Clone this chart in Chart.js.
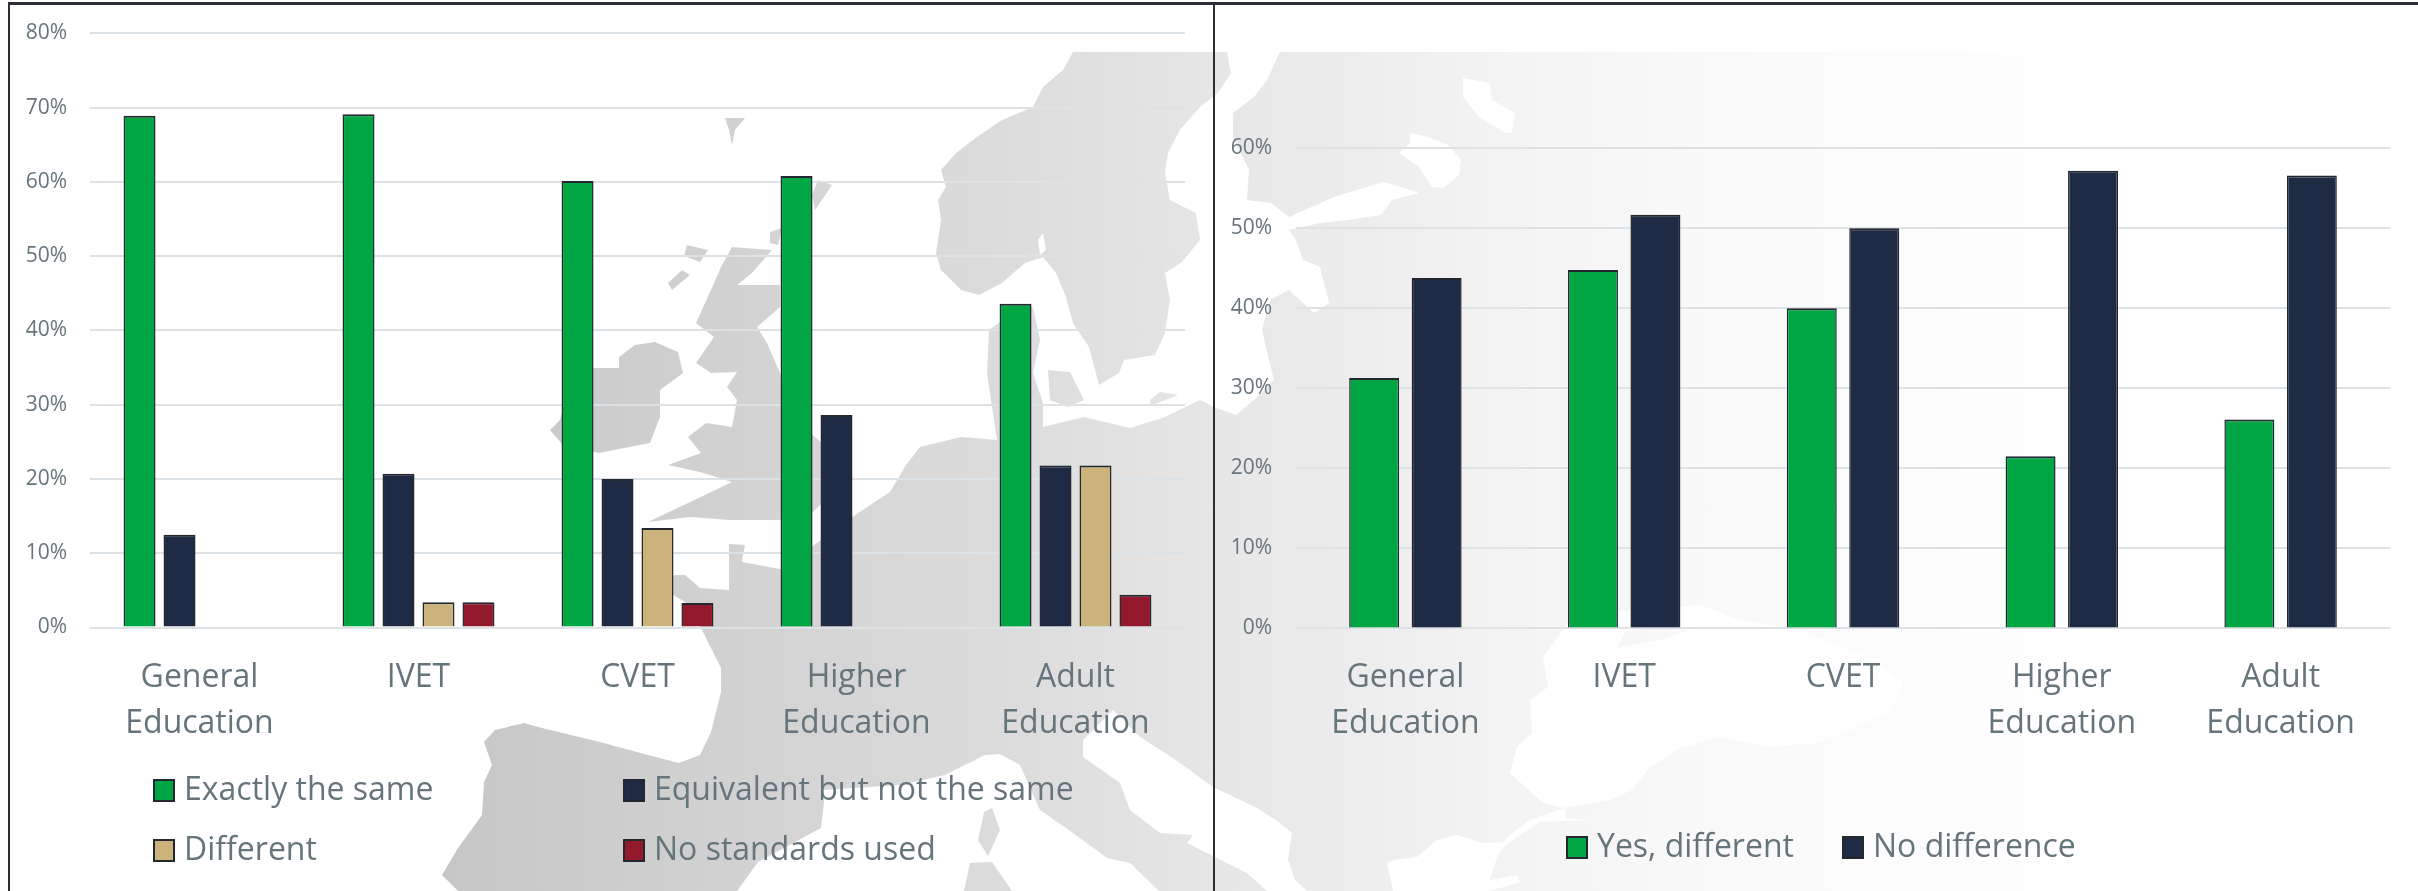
<!DOCTYPE html>
<html><head><meta charset="utf-8">
<script src="https://cdn.jsdelivr.net/npm/chart.js@4/dist/chart.umd.min.js"></script>
<style>
html,body{margin:0;padding:0;background:#fff;width:2418px;height:891px;overflow:hidden}
#map,canvas,.rule{position:absolute}
#map{left:0;top:0}
#c1{left:0;top:0}
#c2{left:1215px;top:0}
.rule{background:#2a2e35}
</style></head><body>
<svg id="map" width="2418" height="891"></svg>
<canvas id="c1" width="1215" height="891"></canvas>
<canvas id="c2" width="1203" height="891"></canvas>
<div class="rule" style="left:8px;top:2px;width:2410px;height:3px"></div>
<div class="rule" style="left:8px;top:2px;width:2px;height:889px"></div>
<div class="rule" style="left:1213px;top:2px;width:2px;height:889px"></div>
<script>
// ---- data ----
const categories = [["General","Education"],"IVET","CVET",["Higher","Education"],["Adult","Education"]];
const exactlySame = [68.9,69.1,60.1,60.8,43.6];
const equivalent  = [12.5,20.7,20.0,28.6,21.8];
const different   = [null,3.4,13.4,null,21.8];
const noStandards = [null,3.4,3.3,null,4.4];
const yesDifferent = [31.3,44.8,40.0,21.5,26.1];
const noDifference = [43.8,51.7,50.0,57.2,56.6];

// ---- decorative background map (land, then water on top) ----
const land = [
 [[1073,52],[1063,70],[1043,87],[1033,107],[1002,120],[977,137],[956,153],[941,170],[946,187],[938,200],[941,220],[936,253],[941,270],[961,290],[979,295],[1002,283],[1025,263],[1043,257],[1056,273],[1066,297],[1073,323],[1089,347],[1099,385],[1119,373],[1124,360],[1155,355],[1165,333],[1170,300],[1165,273],[1182,262],[1200,240],[1196,213],[1170,200],[1165,173],[1168,153],[1180,130],[1200,107],[1218,93],[1231,73],[1227,52]],
 [[1280,52],[2418,52],[2418,891],[1159,891],[1130,863],[1107,858],[1073,833],[1040,810],[1020,765],[1000,754],[985,755],[945,775],[900,785],[822,790],[824,802],[821,828],[758,862],[737,891],[458,891],[442,875],[458,848],[482,815],[484,782],[492,765],[484,742],[495,730],[524,723],[542,728],[600,742],[648,755],[679,763],[700,755],[711,732],[721,692],[721,668],[703,632],[690,605],[665,590],[674,575],[685,575],[700,588],[729,590],[729,544],[745,545],[742,562],[785,570],[800,555],[835,530],[858,513],[890,492],[906,465],[920,447],[961,437],[997,440],[992,407],[987,373],[989,330],[1007,317],[1033,307],[1040,340],[1033,373],[1043,403],[1043,427],[1084,417],[1130,428],[1165,417],[1200,400],[1216,408],[1236,415],[1254,400],[1274,380],[1269,360],[1262,330],[1270,300],[1289,290],[1314,313],[1329,303],[1320,267],[1303,260],[1296,240],[1289,230],[1320,223],[1347,220],[1381,215],[1392,200],[1419,193],[1401,187],[1383,182],[1334,197],[1289,217],[1271,203],[1247,200],[1249,170],[1233,137],[1233,113],[1254,97],[1267,80]],
 [[594,368],[619,368],[619,357],[635,345],[655,342],[678,352],[683,373],[660,390],[660,417],[650,443],[624,448],[599,453],[563,445],[550,430],[560,420],[565,400],[580,375]],
 [[732,247],[772,250],[752,273],[737,285],[780,285],[780,307],[757,327],[767,343],[780,373],[795,420],[830,450],[845,475],[825,500],[810,515],[780,520],[730,520],[690,517],[648,522],[684,505],[732,482],[700,472],[668,465],[701,453],[688,437],[706,423],[732,427],[737,400],[727,387],[737,372],[711,373],[696,363],[714,337],[696,323],[711,290],[721,267]],
 [[1048,370],[1070,372],[1084,400],[1068,407],[1050,400]],
 [[984,812],[992,808],[1000,830],[988,856],[978,840],[982,822]],
 [[964,891],[970,863],[992,862],[1012,891]],
 [[687,245],[708,250],[700,262],[684,256]],[[682,270],[690,275],[672,290],[668,283]],
 [[770,232],[782,228],[778,245],[770,243]],[[818,180],[832,185],[815,210],[812,195]],
 [[725,118],[745,118],[735,130],[732,145],[729,130]],[[1150,400],[1160,392],[1178,395],[1150,406]]
];
const water = [
 [[1083,740],[1113,710],[1140,737],[1173,758],[1213,787],[1257,808],[1280,823],[1292,833],[1288,860],[1295,880],[1307,891],[1267,891],[1247,873],[1207,853],[1187,843],[1193,835],[1160,833],[1130,810],[1120,783],[1083,757]],
 [[1387,863],[1393,860],[1417,857],[1437,840],[1457,835],[1483,843],[1507,842],[1497,857],[1490,880],[1517,875],[1520,882],[1490,891],[1393,891]],
 [[1563,630],[1570,620],[1600,610],[1640,612],[1700,605],[1740,620],[1800,630],[1833,643],[1877,660],[1903,683],[1893,710],[1850,730],[1817,743],[1767,747],[1720,737],[1680,748],[1650,767],[1632,790],[1610,800],[1565,808],[1543,803],[1532,793],[1510,773],[1517,747],[1532,733],[1530,700],[1548,687],[1543,657]],
 [[1565,808],[1566,818],[1590,820],[1540,822],[1520,835],[1500,850],[1506,838],[1530,820]],
 [[1463,78],[1490,83],[1492,100],[1515,113],[1512,133],[1506,133],[1479,117],[1463,97]],
 [[1410,133],[1428,137],[1448,145],[1461,160],[1459,175],[1443,188],[1432,187],[1419,167],[1399,153],[1410,143]],
 [[1043,233],[1046,250],[1040,255],[1038,240]]
];
const crimea = [[1617,648],[1625,632],[1660,622],[1690,630],[1660,640]];
const toPath = p => 'M' + p.map(q => q.join(',')).join('L') + 'Z';
document.getElementById('map').innerHTML =
 '<defs><linearGradient id="g" gradientUnits="userSpaceOnUse" x1="440" y1="0" x2="2080" y2="0">' +
 [[0,'#c6c6c6'],[.2,'#d3d3d3'],[.35,'#dcdcdc'],[.47,'#e6e6e6'],[.55,'#ececec'],[.646,'#f3f3f3'],[.77,'#f9f9f9'],[.9,'#fcfcfc'],[1,'#ffffff']]
   .map(s => `<stop offset="${s[0]}" stop-color="${s[1]}"/>`).join('') +
 '</linearGradient></defs>' +
 `<path fill="url(#g)" d="${land.map(toPath).join('')}"/>` +
 `<path fill="#ffffff" d="${water.map(toPath).join('')}"/>` +
 `<path fill="url(#g)" d="${toPath(crimea)}"/>`;

// ---- colours ----
const GREEN='#00a544', NAVY='#1f2a44', TAN='#ccb27b', RED='#931a2d', EDGE='#23272f', TEXT='#66757c', GRID='#dde2e6';
const FONT='"Open Sans", sans-serif';

// Legend drawn from the chart's own datasets; only the placement is given here.
const panelLegend = {
  id:'panelLegend',
  afterDraw(chart, _a, opts){
    const ctx = chart.ctx;
    ctx.save();
    chart.data.datasets.forEach((ds,i)=>{
      const [x,base] = opts.slots[i];
      ctx.fillStyle = ds.backgroundColor;
      ctx.fillRect(x, base-21, 22, 23);
      ctx.strokeStyle = EDGE; ctx.lineWidth = 2;
      ctx.strokeRect(x+1, base-20, 20, 21);
      ctx.fillStyle = TEXT;
      ctx.font = '32px '+FONT;
      ctx.textBaseline = 'alphabetic';
      ctx.textAlign = 'left';
      ctx.fillText(ds.label, x+31, base);
    });
    ctx.restore();
  }
};

function makeChart(id, sets, o){
  return new Chart(document.getElementById(id),{
    type:'bar',
    data:{labels:categories,datasets:sets.map(s=>({
      label:s[0],data:s[1],backgroundColor:s[2],borderColor:EDGE,
      borderWidth:{top:2,left:1.5,right:1.5,bottom:0},borderSkipped:false,
      categoryPercentage:o.cat,barPercentage:0.8}))},
    plugins:[panelLegend],
    options:{
      responsive:false,animation:false,
      layout:{padding:{top:o.top,right:o.right,left:0,bottom:0}},
      plugins:{legend:{display:false},tooltip:{enabled:false},title:{display:false},
        panelLegend:{slots:o.slots}},
      scales:{
        x:{grid:{display:false},border:{display:false},
           ticks:{color:TEXT,font:{family:FONT,size:32,lineHeight:1.43},padding:o.xpad,maxRotation:0,autoSkip:false},
           afterFit(s){s.height=o.xh;}},
        y:{min:0,max:o.max,
           grid:{color:GRID,lineWidth:2,drawTicks:false},border:{display:false},
           ticks:{stepSize:10,color:TEXT,font:{family:FONT,size:21},padding:o.ypad,callback:v=>v+'%'},
           afterFit(s){s.width=o.yw;s.paddingTop=0;s.paddingBottom=0;}}
      }
    }
  });
}

makeChart('c1',[
  ['Exactly the same',exactlySame,GREEN],
  ['Equivalent but not the same',equivalent,NAVY],
  ['Different',different,TAN],
  ['No standards used',noStandards,RED]
],{cat:0.73,top:33.3,right:30,xh:263.5,yw:90,max:80,xpad:20,ypad:23,
   slots:[[153,800],[623,800],[153,860],[623,860]]});

makeChart('c2',[
  ['Yes, different',yesDifferent,GREEN],
  ['No difference',noDifference,NAVY]
],{cat:0.571,top:148.3,right:28,xh:262.6,yw:81,max:60,xpad:19,ypad:24,
   slots:[[351,857],[627,857]]});
</script>
</body></html>
